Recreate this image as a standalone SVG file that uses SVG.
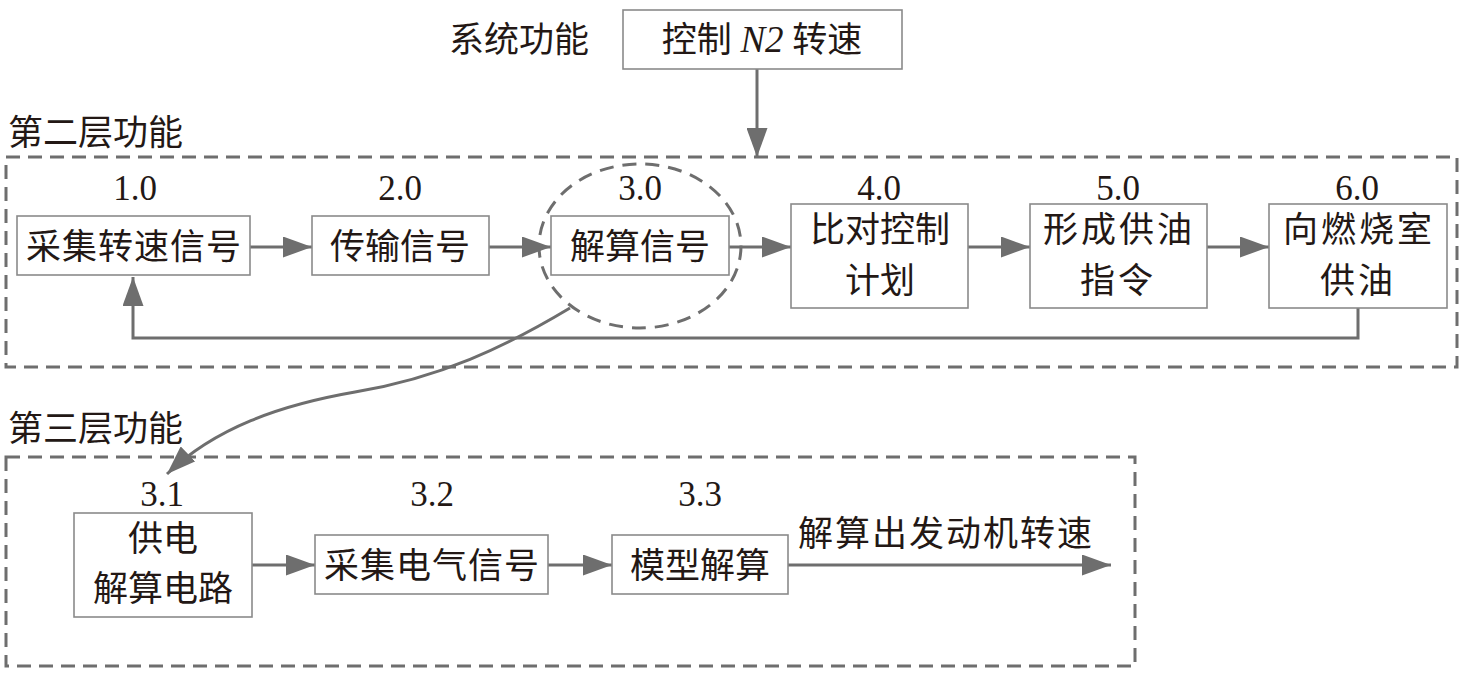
<svg xmlns="http://www.w3.org/2000/svg" width="1464" height="674" viewBox="0 0 1464 674">
<style>
.bg{fill:#ffffff}
.box{fill:#ffffff;stroke:#8a8a8a;stroke-width:1.6}
.frame{fill:none;stroke:#6e6e6e;stroke-width:3;stroke-dasharray:14 8}
.ell{fill:none;stroke:#6e6e6e;stroke-width:3;stroke-dasharray:14 9}
.ln{fill:none;stroke:#6e6e6e;stroke-width:3}
.t{font-family:"Liberation Serif","Noto Sans CJK SC",serif;font-size:35px;fill:#231815;text-anchor:middle}
.tl{font-family:"Liberation Serif","Noto Sans CJK SC",serif;font-size:35px;fill:#231815}
.n{font-family:"Liberation Serif","Noto Sans CJK SC",serif;font-size:35px;fill:#231815;text-anchor:middle}
</style>
<defs>
<marker id="ah" markerUnits="userSpaceOnUse" markerWidth="29" markerHeight="21" refX="29" refY="10.5" orient="auto" viewBox="0 0 29 21">
<path d="M0,0 L29,10.5 L0,21 z" fill="#6e6e6e"/>
</marker>
</defs>
<rect class="bg" x="0" y="0" width="1464" height="674"/>

<g id="frames">
<rect class="frame" x="6" y="157" width="1451" height="210"/>
<rect class="frame" x="6" y="457" width="1129" height="209"/>
<ellipse class="ell" cx="640" cy="246" rx="101" ry="82"/>
</g>

<g id="labels">
<text class="tl" x="449" y="52">系统功能</text>
<text class="tl" x="8" y="145">第二层功能</text>
<text class="tl" x="8" y="441">第三层功能</text>
</g>

<g id="connectors">
<line class="ln" x1="757" y1="69" x2="757" y2="157" marker-end="url(#ah)"/>
<line class="ln" x1="250" y1="247" x2="312" y2="247" marker-end="url(#ah)"/>
<line class="ln" x1="489" y1="247" x2="551" y2="247" marker-end="url(#ah)"/>
<line class="ln" x1="712" y1="247" x2="791" y2="247" marker-end="url(#ah)"/>
<line class="ln" x1="968" y1="247" x2="1030" y2="247" marker-end="url(#ah)"/>
<line class="ln" x1="1207" y1="247" x2="1269" y2="247" marker-end="url(#ah)"/>
<path class="ln" d="M1358,308 L1358,338 L133,338 L133,277" marker-end="url(#ah)"/>
<path class="ln" d="M570,308 C505,347 440,378 355,392 C280,405 215,428 167,474" marker-end="url(#ah)"/>
<line class="ln" x1="252" y1="565" x2="315" y2="565" marker-end="url(#ah)"/>
<line class="ln" x1="548" y1="565" x2="612" y2="565" marker-end="url(#ah)"/>
<line class="ln" x1="788" y1="565" x2="1111" y2="565" marker-end="url(#ah)"/>
</g>

<g id="n-top">
<rect class="box" x="623" y="10" width="279" height="59"/>
<text class="t" x="762" y="52">控制 <tspan font-style="italic" font-size="37">N2</tspan> 转速</text>
</g>

<g id="n-1-0">
<text class="n" x="135" y="200">1.0</text>
<rect class="box" x="17" y="216" width="233" height="59"/>
<text class="t" x="134" y="259" letter-spacing="1">采集转速信号</text>
</g>

<g id="n-2-0">
<text class="n" x="400" y="200">2.0</text>
<rect class="box" x="312" y="216" width="177" height="59"/>
<text class="t" x="400" y="259">传输信号</text>
</g>

<g id="n-3-0">
<text class="n" x="640" y="200">3.0</text>
<rect class="box" x="551" y="216" width="178" height="59"/>
<text class="t" x="640" y="259">解算信号</text>
</g>

<g id="n-4-0">
<text class="n" x="879" y="200">4.0</text>
<rect class="box" x="791" y="204" width="177" height="104"/>
<text class="t" x="880" y="242">比对控制</text>
<text class="t" x="880" y="293">计划</text>
</g>

<g id="n-5-0">
<text class="n" x="1118" y="200">5.0</text>
<rect class="box" x="1030" y="204" width="177" height="104"/>
<text class="t" x="1119" y="242" letter-spacing="3">形成供油</text>
<text class="t" x="1118" y="293" letter-spacing="3">指令</text>
</g>

<g id="n-6-0">
<text class="n" x="1357" y="200">6.0</text>
<rect class="box" x="1269" y="204" width="178" height="104"/>
<text class="t" x="1359" y="242" letter-spacing="3">向燃烧室</text>
<text class="t" x="1358" y="293" letter-spacing="3">供油</text>
</g>

<g id="n-3-1">
<text class="n" x="162" y="506">3.1</text>
<rect class="box" x="74" y="513" width="178" height="104"/>
<text class="t" x="163" y="551">供电</text>
<text class="t" x="163" y="601">解算电路</text>
</g>

<g id="n-3-2">
<text class="n" x="432" y="506">3.2</text>
<rect class="box" x="315" y="535" width="233" height="59"/>
<text class="t" x="432" y="578" letter-spacing="1">采集电气信号</text>
</g>

<g id="n-3-3">
<text class="n" x="700" y="506">3.3</text>
<rect class="box" x="612" y="535" width="176" height="59"/>
<text class="t" x="700" y="578">模型解算</text>
</g>

<g id="out-label">
<text class="tl" x="798" y="546" letter-spacing="2">解算出发动机转速</text>
</g>
</svg>
